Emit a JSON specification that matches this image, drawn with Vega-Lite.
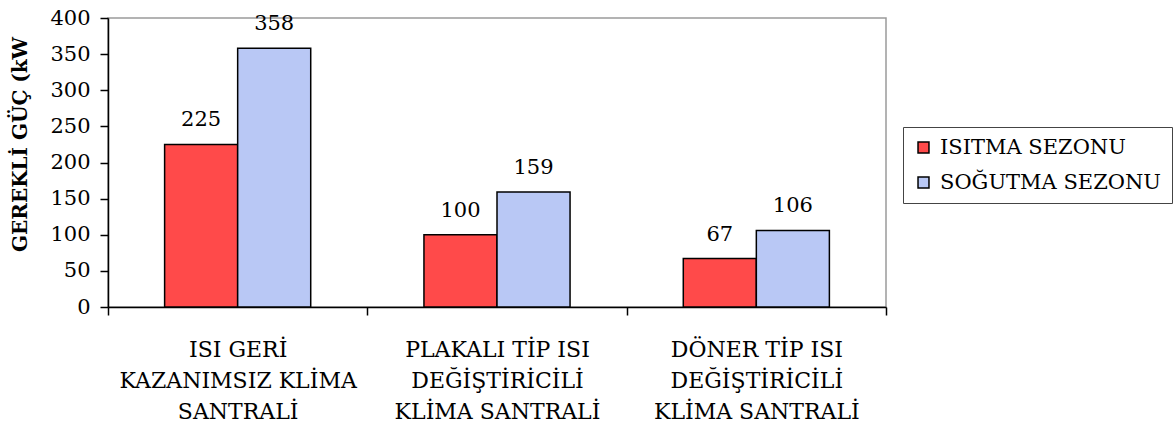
{
  "$schema": "https://vega.github.io/schema/vega-lite/v6.json",
  "autosize": "none",
  "width": 778,
  "height": 289,
  "padding": {"left": 108, "top": 18, "right": 289, "bottom": 121},
  "background": "white",
  "config": {
    "view": {"stroke": "#9a9a9a", "strokeWidth": 1.5},
    "font": "DejaVu Serif"
  },
  "data": {
    "values": [
      {"santral": "ISI GERİ|KAZANIMSIZ KLİMA|SANTRALİ", "sezon": "ISITMA SEZONU", "guc": 225},
      {"santral": "ISI GERİ|KAZANIMSIZ KLİMA|SANTRALİ", "sezon": "SOĞUTMA SEZONU", "guc": 358},
      {"santral": "PLAKALI TİP ISI|DEĞİŞTİRİCİLİ|KLİMA SANTRALİ", "sezon": "ISITMA SEZONU", "guc": 100},
      {"santral": "PLAKALI TİP ISI|DEĞİŞTİRİCİLİ|KLİMA SANTRALİ", "sezon": "SOĞUTMA SEZONU", "guc": 159},
      {"santral": "DÖNER TİP ISI|DEĞİŞTİRİCİLİ|KLİMA SANTRALİ", "sezon": "ISITMA SEZONU", "guc": 67},
      {"santral": "DÖNER TİP ISI|DEĞİŞTİRİCİLİ|KLİMA SANTRALİ", "sezon": "SOĞUTMA SEZONU", "guc": 106}
    ]
  },
  "encoding": {
    "x": {
      "field": "santral", "type": "nominal", "sort": null,
      "scale": {"paddingInner": 0, "paddingOuter": 0},
      "axis": {
        "title": null, "labelAngle": 0, "labelExpr": "split(datum.label, '|')", "labelFont": "DejaVu Serif",
        "labelFontSize": 22, "labelLineHeight": 31, "labelPadding": 24,
        "labelColor": "black", "domainColor": "black", "domainWidth": 1.5, "tickColor": "black", "tickWidth": 1.5,
        "tickBand": "extent", "tickSize": 8, "labelBaseline": "top", "labelLimit": 300
      }
    },
    "xOffset": {"field": "sezon", "type": "nominal", "scale": {"paddingOuter": 0.775, "paddingInner": 0}},
    "y": {
      "field": "guc", "type": "quantitative",
      "scale": {"domain": [0, 400], "nice": false},
      "axis": {
        "title": "GEREKLİ GÜÇ (kW", "values": [0, 50, 100, 150, 200, 250, 300, 350, 400],
        "grid": false, "labelFontSize": 21, "labelColor": "black", "labelPadding": 10, "labelFont": "DejaVu Serif", "titleFont": "DejaVu Serif",
        "domainColor": "black", "domainWidth": 1.5, "tickColor": "black", "tickWidth": 1.5, "tickSize": 8,
        "titleFontSize": 20, "titleFontWeight": "bold", "titleColor": "black",
        "titleY": 126, "titleX": -88, "titleAlign": "center", "titleBaseline": "middle", "titleAngle": -90
      }
    }
  },
  "layer": [
    {
      "mark": {"type": "bar", "stroke": "black", "strokeWidth": 1.5},
      "encoding": {
        "fill": {
          "field": "sezon", "type": "nominal",
          "scale": {"domain": ["ISITMA SEZONU", "SOĞUTMA SEZONU"], "range": ["#ff4a4a", "#b9c8f5"]},
          "legend": {
            "title": null, "orient": "none", "legendX": 795, "legendY": 109, "labelFont": "DejaVu Serif",
            "symbolType": "square", "symbolSize": 120, "symbolStrokeColor": "black", "symbolStrokeWidth": 1.5,
            "labelFontSize": 21, "labelColor": "black", "rowPadding": 13,
            "strokeColor": "#444", "padding": 10, "labelLimit": 300, "labelOffset": 6
          }
        }
      }
    },
    {
      "mark": {"type": "text", "dy": -18, "fontSize": 21, "color": "black", "baseline": "alphabetic", "font": "DejaVu Serif"},
      "encoding": {"text": {"field": "guc", "type": "quantitative"}}
    }
  ]
}
